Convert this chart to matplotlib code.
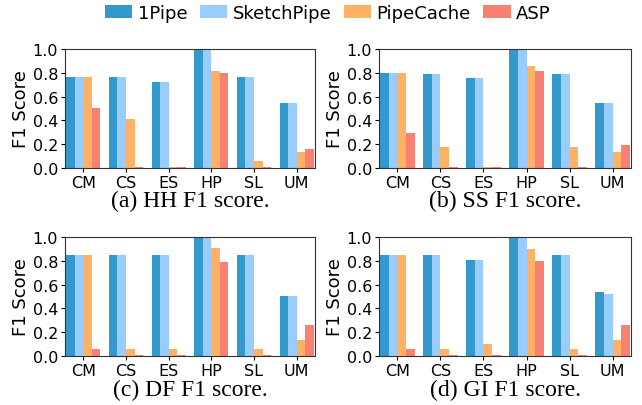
import matplotlib
matplotlib.use("Agg")
import matplotlib.pyplot as plt
import numpy as np

categories = ["CM", "CS", "ES", "HP", "SL", "UM"]
series_names = ["1Pipe", "SketchPipe", "PipeCache", "ASP"]
colors = ["#3399cc", "#99ccff", "#ffb266", "#fa8072"]

hh_1pipe = [0.763, 0.763, 0.723, 1.0, 0.763, 0.547]
hh_sketch = [0.763, 0.763, 0.723, 1.0, 0.763, 0.547]
hh_cache = [0.763, 0.408, 0.01, 0.816, 0.061, 0.137]
hh_asp = [0.506, 0.01, 0.01, 0.80, 0.01, 0.162]

ss_1pipe = [0.80, 0.79, 0.757, 1.0, 0.79, 0.547]
ss_sketch = [0.80, 0.79, 0.757, 1.0, 0.79, 0.547]
ss_cache = [0.80, 0.179, 0.01, 0.858, 0.179, 0.137]
ss_asp = [0.296, 0.01, 0.01, 0.816, 0.01, 0.196]

df_1pipe = [0.851, 0.851, 0.851, 1.0, 0.851, 0.504]
df_sketch = [0.851, 0.851, 0.851, 1.0, 0.851, 0.504]
df_cache = [0.851, 0.056, 0.056, 0.91, 0.056, 0.132]
df_asp = [0.056, 0.008, 0.008, 0.794, 0.008, 0.259]

gi_1pipe = [0.851, 0.851, 0.808, 1.0, 0.851, 0.538]
gi_sketch = [0.851, 0.851, 0.808, 1.0, 0.851, 0.518]
gi_cache = [0.851, 0.056, 0.099, 0.90, 0.056, 0.132]
gi_asp = [0.056, 0.008, 0.008, 0.80, 0.008, 0.259]

yticks = [0.0, 0.2, 0.4, 0.6, 0.8, 1.0]
captions = ["(a) HH F1 score.", "(b) SS F1 score.", "(c) DF F1 score.", "(d) GI F1 score."]

panels = [
    (hh_1pipe, hh_sketch, hh_cache, hh_asp),
    (ss_1pipe, ss_sketch, ss_cache, ss_asp),
    (df_1pipe, df_sketch, df_cache, df_asp),
    (gi_1pipe, gi_sketch, gi_cache, gi_asp),
]

W, H = 642, 406
fig = plt.figure(figsize=(W / 100, H / 100), dpi=100)

def px_axes(l, t, r, b):
    return fig.add_axes([l / W, 1 - b / H, (r - l) / W, (b - t) / H])

boxes = [(65, 50, 315, 169), (379, 50, 631, 169), (65, 238, 315, 357), (379, 238, 631, 357)]
cap_y = [201, 201, 390, 390]

x = np.arange(len(categories))
bw = 0.2
handles = None
for i, (box, data) in enumerate(zip(boxes, panels)):
    ax = px_axes(*box)
    hs = []
    for j, vals in enumerate(data):
        h = ax.bar(x + (j - 1.5) * bw, vals, bw, color=colors[j], label=series_names[j])
        hs.append(h)
    handles = hs
    ax.set_ylim(0, 1.0)
    ax.set_yticks(yticks)
    ax.set_yticklabels([f"{v:.1f}" for v in yticks])
    ax.set_xticks(x)
    ax.set_xticklabels(categories)
    ax.set_xlim(-0.43, 5.43)
    ax.tick_params(axis="both", labelsize=11.5, length=3, pad=2)
    ax.set_ylabel("F1 Score", fontsize=13, labelpad=2)
    for s in ax.spines.values():
        s.set_color("#333333")
    cx = (box[0] + box[2]) / 2 / W
    fig.text(cx, 1 - cap_y[i] / H, captions[i], ha="center", va="center",
             fontsize=17, family="Liberation Serif")

fig.legend(handles, series_names, loc="center", bbox_to_anchor=(328 / W, 1 - 14 / H),
           ncol=4, frameon=False, fontsize=13, handlelength=1.5, handleheight=0.75,
           handletextpad=0.3, columnspacing=0.7, borderpad=0, borderaxespad=0)

fig.savefig("out.png", dpi=100)
